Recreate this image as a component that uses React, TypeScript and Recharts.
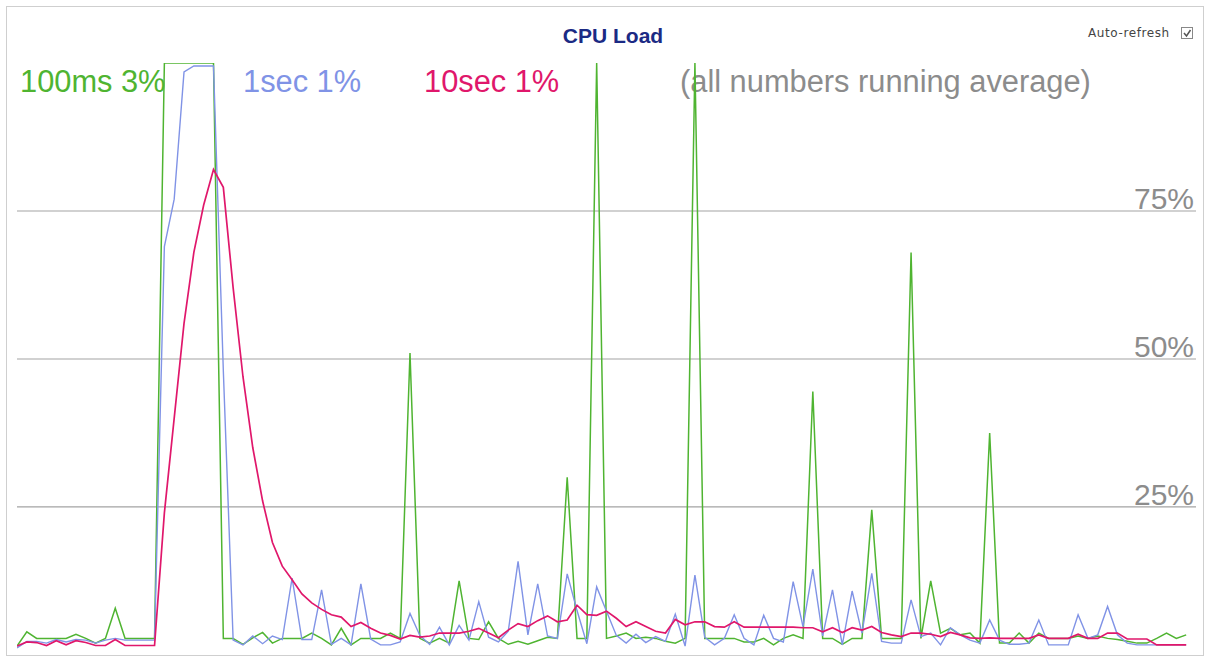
import React from 'react';
import { LineChart, Line, XAxis, YAxis, ReferenceLine } from 'recharts';

// 100 ms running average (%)
const LOAD_100MS: number[] = [
  1.5, 3.9, 2.8, 2.8, 2.8, 2.8, 3.5, 2.8, 2.0, 2.8,
  7.9, 2.8, 2.8, 2.8, 2.8, 100, 100, 100, 100, 100,
  100, 2.8, 2.8, 1.8, 2.9, 3.8, 2.0, 2.8, 2.8, 2.8,
  3.7, 2.8, 1.7, 4.5, 1.7, 2.8, 2.8, 2.8, 3.7, 2.8,
  51, 2.8, 2.0, 2.8, 2.0, 12.5, 2.8, 2.6, 5.6, 2.8,
  1.8, 2.3, 1.8, 2.4, 3.0, 2.8, 30, 2.8, 2.8, 100,
  2.8, 3.2, 3.7, 2.8, 3.0, 2.8, 2.3, 2.0, 2.8, 100,
  2.8, 2.8, 2.8, 2.8, 2.2, 2.2, 2.8, 1.7, 2.8, 3.4,
  2.8, 44.5, 2.8, 2.8, 1.8, 2.8, 2.8, 24.5, 2.8, 2.8,
  2.8, 68, 2.8, 12.5, 3.7, 4.5, 3.4, 3.7, 2.0, 37.5,
  2.0, 2.0, 3.7, 2.0, 3.7, 2.8, 2.8, 2.8, 3.2, 2.8,
  3.2, 2.8, 2.6, 2.3, 2.0, 2.0, 2.8, 3.7, 2.8, 3.4,
];

// 1 second running average (%)
const LOAD_1SEC: number[] = [
  1.2, 2.3, 2.3, 2.0, 2.6, 2.2, 2.6, 2.5, 2.0, 2.5,
  2.8, 2.5, 2.5, 2.5, 2.5, 69, 77, 98.5, 99.5, 99.5,
  99.5, 48, 2.5, 1.7, 3.2, 1.9, 3.2, 2.6, 13, 2.6,
  2.6, 11, 1.8, 2.8, 1.7, 12, 2.7, 1.7, 1.7, 2.2,
  7.0, 3.3, 1.8, 4.7, 1.7, 5.0, 2.5, 9.0, 3.0, 2.2,
  4.0, 15.8, 3.4, 12, 3.2, 2.8, 13.7, 7.5, 1.9, 11.5,
  7.4, 3.3, 2.0, 3.5, 2.1, 3.1, 2.3, 6.9, 1.5, 13.5,
  3.0, 1.7, 2.8, 6.8, 2.8, 1.7, 6.7, 2.8, 2.2, 12.4,
  4.8, 14.5, 3.2, 11, 1.7, 10.8, 3.7, 13.8, 2.3, 2.0,
  2.0, 9.3, 3.1, 3.7, 1.7, 4.6, 3.4, 2.5, 2.0, 5.9,
  2.5, 1.8, 1.8, 2.0, 5.9, 1.7, 1.7, 1.7, 6.8, 2.8,
  3.4, 8.2, 3.4, 2.0, 1.7, 1.7, 1.7, 1.7, 1.7, 1.7,
];

// 10 second running average (%)
const LOAD_10SEC: number[] = [
  1.5, 2.2, 2.1, 1.6, 2.4, 1.7, 2.4, 2.1, 1.6, 1.6,
  2.6, 1.6, 1.6, 1.6, 1.6, 24, 40, 56, 68, 76,
  82, 79, 62, 47, 35, 26, 19, 15, 12.7, 10.3,
  8.8, 7.7, 6.8, 6.4, 4.8, 5.5, 4.5, 3.7, 3.3, 2.7,
  3.3, 3.0, 3.2, 3.7, 3.7, 3.7, 4.0, 4.5, 3.7, 2.9,
  4.2, 5.3, 4.8, 5.8, 6.6, 5.6, 5.9, 8.4, 6.8, 6.7,
  7.4, 6.2, 4.8, 5.6, 4.8, 4.0, 3.7, 6.0, 5.1, 5.6,
  5.6, 4.8, 4.7, 5.6, 4.7, 4.7, 4.7, 4.7, 4.7, 4.7,
  4.6, 4.6, 3.9, 4.6, 3.8, 4.6, 4.2, 4.8, 3.8, 3.4,
  3.1, 3.7, 3.7, 3.5, 3.1, 3.8, 3.4, 2.9, 2.8, 2.9,
  2.8, 2.8, 2.8, 2.8, 3.4, 2.8, 2.8, 2.8, 3.5, 2.8,
  2.8, 3.7, 3.7, 2.7, 2.7, 2.7, 1.7, 1.7, 1.7, 1.7,
];

// sample index (category axis)
const SAMPLES: number[] = LOAD_100MS.map((_, i) => i);

const GRID_TICKS: number[] = [25, 50, 75];
const TITLE = 'CPU Load';
const LEGEND_LABELS: string[] = ['100ms 3%', '1sec 1%', '10sec 1%', '(all numbers running average)'];
const AUTO_REFRESH = 'Auto-refresh';

const GREEN = '#4fb431';
const BLUE = '#8093e6';
const PINK = '#e0176b';
const GRAY_TEXT = '#8c8c8c';

const W = 1209;
const H = 657;
const FONT = '"Liberation Sans", Arial, Helvetica, sans-serif';

export default function App() {
  const data = SAMPLES.map((s, i) => ({
    s,
    ms100: LOAD_100MS[i],
    sec1: LOAD_1SEC[i],
    sec10: LOAD_10SEC[i],
  }));

  const legendX = [20, 243, 424, 680];
  const legendColor = [GREEN, BLUE, PINK, GRAY_TEXT];

  return (
    <div style={{ position: 'absolute', left: 0, top: 0, width: W, height: H, background: '#fff' }}>
      <svg width={W} height={H} style={{ position: 'absolute', left: 0, top: 0 }}>
        <rect x={6.5} y={6.5} width={1197} height={649} fill="#fff" stroke="#cfcfcf" strokeWidth={1} />
        <text x={613} y={43} textAnchor="middle" fontFamily={FONT} fontWeight="bold" fontSize={21} fill="#1b2a84">
          {TITLE}
        </text>
        <text x={1088} y={37} fontFamily='"DejaVu Sans", Verdana, sans-serif' fontSize={12} letterSpacing={0.6} fill="#444">
          {AUTO_REFRESH}
        </text>
        <rect x={1181.5} y={27.5} width={11} height={11} fill="#fff" stroke="#888" strokeWidth={1} />
        <path d="M1184 33 L1186.5 36 L1190.5 30" fill="none" stroke="#555" strokeWidth={1.5} />
        {LEGEND_LABELS.map((t, i) => (
          <text key={t} x={legendX[i]} y={92} fontFamily={FONT} fontSize={30.8} fill={legendColor[i]}>
            {t}
          </text>
        ))}
      </svg>
      <div style={{ position: 'absolute', left: 0, top: 0 }}>
        <LineChart width={W} height={H} data={data} margin={{ top: 63, right: 13, bottom: 5, left: 17 }}>
          <XAxis
            type="number"
            dataKey="s"
            domain={[0, 120]}
            allowDataOverflow
            height={0}
            tick={false}
            tickLine={false}
            axisLine={{ stroke: '#111', strokeWidth: 2 }}
          />
          <YAxis
            type="number"
            domain={[0.5, 100]}
            allowDataOverflow
            width={0}
            tick={false}
            tickLine={false}
            axisLine={{ stroke: '#111', strokeWidth: 2 }}
          />
          {GRID_TICKS.map((t) => (
            <ReferenceLine
              key={t}
              y={t}
              stroke="#a3a3a3"
              strokeWidth={1.2}
              label={{
                value: `${t}%`,
                position: 'insideBottomRight',
                offset: 2,
                fill: GRAY_TEXT,
                fontSize: 30,
                fontFamily: FONT,
              }}
            />
          ))}
          <Line type="linear" dataKey="ms100" stroke={GREEN} strokeWidth={1.5} dot={false} isAnimationActive={false} />
          <Line type="linear" dataKey="sec1" stroke={BLUE} strokeWidth={1.4} dot={false} isAnimationActive={false} />
          <Line type="linear" dataKey="sec10" stroke={PINK} strokeWidth={1.7} dot={false} isAnimationActive={false} />
        </LineChart>
      </div>
    </div>
  );
}
